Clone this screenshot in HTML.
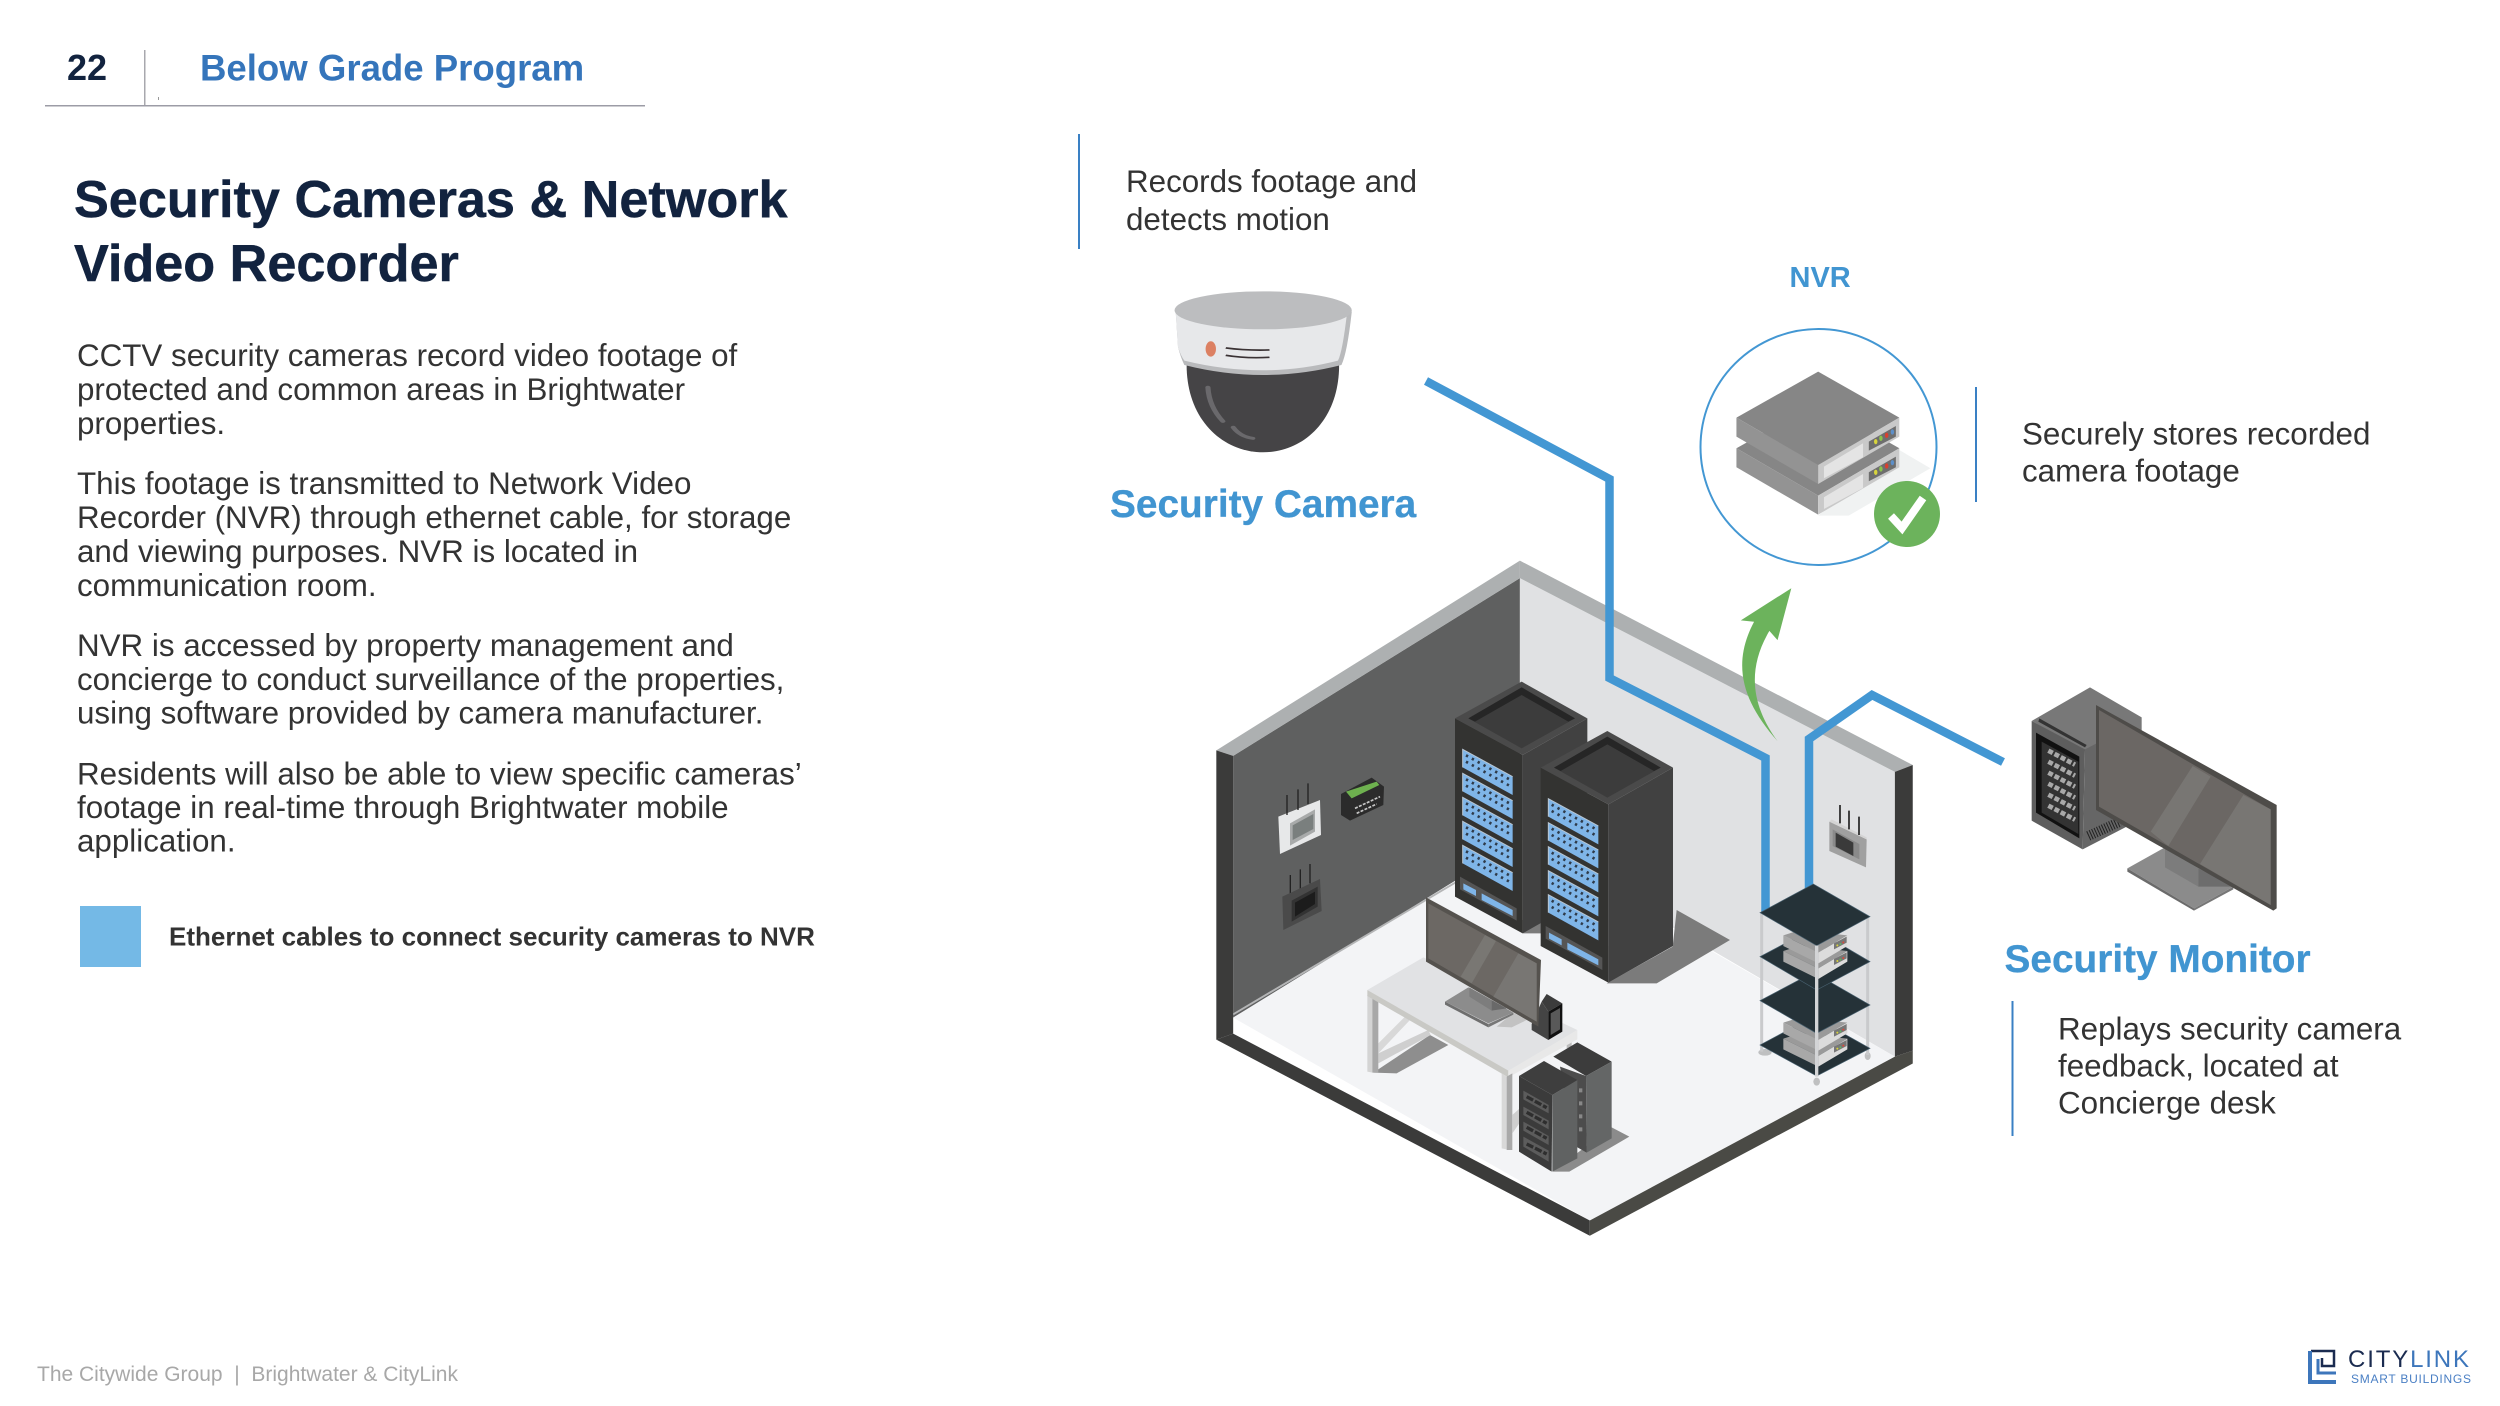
<!DOCTYPE html>
<html><head><meta charset="utf-8"><style>
html,body{margin:0;padding:0;background:#fff;width:2500px;height:1406px;overflow:hidden}
svg{display:block}
text{font-family:"Liberation Sans",sans-serif;white-space:pre}
.b{font-size:31.35px;fill:#333}
.c{font-size:31.35px;fill:#333}
.l{font-weight:bold;fill:#4195d1}
</style></head><body>
<svg width="2500" height="1406" viewBox="0 0 2500 1406" xmlns="http://www.w3.org/2000/svg">
<defs>
<g id="panel">
<polygon points="668,208 818,290 818,345 668,262" fill="#7fb5e8"/>
<polyline points="668,262 668,208 818,290" fill="none" stroke="#b9c6d2" stroke-width="3"/>
<line x1="678" y1="226" x2="810" y2="299" stroke="#2f3b4a" stroke-width="8" stroke-dasharray="7 13"/>
<line x1="678" y1="245" x2="810" y2="318" stroke="#2f3b4a" stroke-width="8" stroke-dasharray="7 13"/>
</g>
<g id="rack">
<polygon points="645,115 848,225 848,760 645,650" fill="#333331"/>
<polygon points="848,225 1042,115 1042,650 848,760" fill="#414141"/>
<polygon points="845,5 1042,115 848,225 645,115" fill="#4a4a4a"/>
<polygon points="845,22 1005,115 845,205 685,115" fill="#3c3c3c"/>
<polygon points="845,22 1005,115 985,125 845,45 705,125 685,115" fill="#262626"/>
<use href="#panel"/><use href="#panel" y="72"/><use href="#panel" y="144"/><use href="#panel" y="216"/><use href="#panel" y="288"/>
<polygon points="660,590 830,685 830,722 660,628" fill="#555"/>
<polygon points="670,610 708,630 708,648 670,628" fill="#7fb5e8"/>
<polygon points="725,640 818,690 818,708 725,660" fill="#7fb5e8"/>
</g>
<g id="nvrsmall">
<polygon points="130,478 180,462 322,478 235,530" fill="#9a9a9a"/>
<polygon points="130,478 235,530 235,562 130,510" fill="#a8a8a8"/>
<polygon points="235,530 322,478 322,510 235,562" fill="#dcdcdc"/>
<polygon points="282,502 320,482 320,500 282,520" fill="#777"/>
<circle cx="292" cy="508" r="3" fill="#d8d43c"/><circle cx="301" cy="504" r="3" fill="#5fb85f"/><circle cx="310" cy="499" r="3" fill="#d84a3a"/>
</g>
<g id="box2">
<polygon points="1287,755 1428,893 1287,1035 1145,893" fill="#868686"/>
<polygon points="1145,893 1287,1035 1287,1092 1145,950" fill="#939393"/>
<polygon points="1287,1035 1428,893 1428,950 1287,1092" fill="#c9c9c9"/>
<polygon points="1297,1040 1365,970 1365,1012 1297,1075" fill="#e4e4e4"/>
<polygon points="1375,965 1422,918 1422,950 1375,992" fill="#6e6e6e"/>
<ellipse cx="1387" cy="965" rx="3" ry="8" fill="#d8d43c"/><ellipse cx="1396" cy="955" rx="3" ry="8" fill="#8ac24a"/><ellipse cx="1406" cy="946" rx="3" ry="8" fill="#d8402f"/><ellipse cx="1416" cy="936" rx="3" ry="8" fill="#5c8fc9"/>
</g>
</defs>

<!-- header -->
<text x="67" y="80" font-size="36" font-weight="bold" fill="#12233f">22</text>
<rect x="144" y="50" width="1.5" height="55" fill="#a8a8ae"/>
<rect x="158" y="97" width="1" height="3" fill="#999"/>
<rect x="45" y="105" width="600" height="1.5" fill="#9c9ca6"/>
<text x="200" y="80.500" font-size="36.6" font-weight="bold" fill="#3575bb">Below Grade Program</text>

<text x="74" y="217" font-size="52.2" font-weight="bold" fill="#12233f" stroke="#12233f" stroke-width=".5">Security Cameras &amp; Network</text>
<text x="74" y="281" font-size="52.2" font-weight="bold" fill="#12233f" stroke="#12233f" stroke-width=".5">Video Recorder</text>

<g class="body">
<text class="b" x="77" y="366">CCTV security cameras record video footage of</text>
<text class="b" x="77" y="400">protected and common areas in Brightwater</text>
<text class="b" x="77" y="434">properties.</text>
<text class="b" x="77" y="494">This footage is transmitted to Network Video</text>
<text class="b" x="77" y="528">Recorder (NVR) through ethernet cable, for storage</text>
<text class="b" x="77" y="562">and viewing purposes. NVR is located in</text>
<text class="b" x="77" y="596">communication room.</text>
<text class="b" x="77" y="656">NVR is accessed by property management and</text>
<text class="b" x="77" y="690">concierge to conduct surveillance of the properties,</text>
<text class="b" x="77" y="723.500">using software provided by camera manufacturer.</text>
<text class="b" x="77" y="784.500">Residents will also be able to view specific cameras’</text>
<text class="b" x="77" y="818">footage in real-time through Brightwater mobile</text>
<text class="b" x="77" y="851.500">application.</text>
</g>
<rect x="80" y="906" width="61" height="61" fill="#74b9e6"/>
<text x="169" y="945.500" font-size="26" font-weight="bold" fill="#333">Ethernet cables to connect security cameras to NVR</text>

<text x="37" y="1381" font-size="21" fill="#a8a8a8">The Citywide Group  |  Brightwater &amp; CityLink</text>

<!-- callout rules -->
<rect x="1078" y="134" width="2" height="115" fill="#3a80c4"/>
<rect x="1975" y="387" width="2" height="115" fill="#3a80c4"/>
<rect x="2011.500" y="1001" width="2" height="135" fill="#3a80c4"/>

<text class="c" x="1126" y="192">Records footage and</text>
<text class="c" x="1126" y="230">detects motion</text>
<text class="c" x="2022" y="444.500">Securely stores recorded</text>
<text class="c" x="2022" y="481.500">camera footage</text>
<text class="c" x="2058" y="1039.500">Replays security camera</text>
<text class="c" x="2058" y="1076.500">feedback, located at</text>
<text class="c" x="2058" y="1113.500">Concierge desk</text>

<text class="l" x="1110" y="517" font-size="38.8" stroke="#4195d1" stroke-width=".3">Security Camera</text>
<text class="l" x="1789.500" y="287" font-size="29">NVR</text>
<text class="l" x="2004.500" y="972" font-size="38.8" stroke="#4195d1" stroke-width=".3">Security Monitor</text>

<!-- camera -->
<g transform="translate(1079,120) scale(.5755,.3333)">
<path d="M187,735 C187,900 250,997 320,997 C390,997 452,900 452,735 Z" fill="#454446"/>
<path d="M168,575 L172,680 Q176,710 183,735 Q320,795 456,735 Q466,700 474,575 Z" fill="#b9babc"/>
<path d="M168,575 L172,680 Q176,705 183,722 Q320,780 450,722 Q458,695 466,575 Z" fill="#e7e8ea"/>
<ellipse cx="320" cy="571" rx="154" ry="57" fill="#bcbdbf"/>
<ellipse cx="229" cy="687" rx="9" ry="23" fill="#dc8062"/>
<path d="M255,684 Q290,692 331,690 M255,706 Q290,716 331,712" stroke="#3a3234" stroke-width="5" fill="none"/>
<path d="M224,802 Q226,860 250,904 M268,922 Q280,950 302,955" stroke="#6a696c" stroke-width="9" fill="none" stroke-linecap="round"/>
</g>

<!-- room -->
<g transform="translate(1150,540) scale(.5102,.4592)">
<polygon points="163,470 725,83 725,680 163,1040" fill="#5f6060"/>
<polygon points="725,83 1460,505 1460,1125 725,650" fill="#e0e1e3"/>
<polygon points="163,1040 725,655 1460,1125 862,1482" fill="#f3f4f6"/>
<line x1="163" y1="1033" x2="600" y2="745" stroke="#b4b5b6" stroke-width="4"/>
<polygon points="130,458 725,45 725,83 163,470" fill="#adb0b1"/>
<polygon points="725,45 1495,490 1460,505 725,83" fill="#adb0b1"/>
<polygon points="130,458 163,470 163,1075 130,1088" fill="#3b3b3a"/>
<polygon points="1460,505 1495,490 1495,1112 1460,1125" fill="#3b3b3a"/>
<polygon points="130,1088 163,1075 862,1482 862,1515" fill="#3b3b3a"/>
<polygon points="862,1482 1460,1125 1495,1112 1495,1140 862,1515" fill="#4a4a45"/>
<path d="M1257,105 L1158,175 L1184,178 C1140,270 1160,350 1230,438 C1185,370 1165,290 1214,198 L1230,218 Z" fill="#6cb35c"/>
</g>

<!-- cables -->
<g fill="none" stroke="#4397d3" stroke-width="8.5" stroke-linejoin="miter">
<polyline points="1426,381 1609.500,479 1609.500,678 1765.500,758 1765.500,912"/>
<polyline points="1809,890 1809,739 1872,695 2003,762"/>
</g>

<!-- racks and wall devices -->
<g transform="translate(1240,680) scale(.33333)">
<polygon points="848,760 905,760 905,720 848,720" fill="#7b7b7b"/>
<use href="#rack"/>
<g transform="translate(0,0)">
<polygon points="115,410 240,360 243,465 120,522" fill="#e7e8e9"/>
<polygon points="150,430 225,388 225,455 150,497" fill="#a8aaaa"/>
<polygon points="158,436 220,402 220,447 158,480" fill="#7a7f7e"/>
<path d="M141,345V405M174,328V390M204,310V372M151,585V642M181,568V628M210,552V610" stroke="#222" stroke-width="4"/>
<polygon points="127,650 240,597 245,693 130,750" fill="#4a4a4a"/>
<polygon points="155,662 233,620 233,680 155,725" fill="#333"/>
<polygon points="165,668 225,635 225,672 165,710" fill="#1c1c1c"/>
<polygon points="303,342 395,293 432,320 430,375 330,422 303,405" fill="#2b2b2b"/>
<polygon points="318,335 410,305 418,315 335,355" fill="#6eb14f"/>
<path d="M345,385L420,350M350,400L410,372" stroke="#c7c7c7" stroke-width="5" stroke-dasharray="9 4"/>
</g>
</g>
<!-- big shadow -->
<g transform="translate(1340,880) scale(.33333)">
<polygon points="800,310 950,310 1170,180 1010,90 998,200" fill="#7b7b7b"/>
</g>
<g transform="translate(1240,680) scale(.33333)"><use href="#rack" x="257" y="148"/></g>

<!-- desk -->
<g transform="translate(1340,880) scale(.33333)">
<polygon points="100,578 170,580 325,495 270,465" fill="#8e8e8e"/>
<polygon points="115,490 195,410 210,420 115,520" fill="#d8d8d8"/>
<polygon points="115,520 265,450 272,465 115,550" fill="#cfcfcf"/>
<polygon points="82,345 97,355 97,578 82,575" fill="#d4d4d4"/>
<polygon points="97,355 115,365 115,578 97,578" fill="#a8a8a8"/>
<polygon points="680,490 695,480 695,500 680,505" fill="#bbb"/>
<polygon points="82,330 250,232 712,450 505,575" fill="#e1e2e4"/>
<polygon points="82,330 505,572 505,592 82,348" fill="#c9c9c5"/>
<polygon points="505,572 712,450 712,478 505,592" fill="#e8e8e8"/>
<polygon points="485,580 500,590 500,808 485,805" fill="#d8d8d8"/>
<polygon points="500,590 517,580 517,810 500,810" fill="#a9a9a9"/>
<polygon points="517,705 545,680 545,720 517,760" fill="#cfcfcf"/>
<polygon points="470,440 520,398 560,420 515,442" fill="#c2c2c2"/>
<polygon points="315,365 385,322 520,398 445,430" fill="#8c8c8c"/>
<polygon points="315,365 445,432 445,442 315,374" fill="#6e6e6e"/>
<polygon points="445,432 520,398 520,404 445,442" fill="#777"/>
<polygon points="388,322 455,360 455,392 388,350" fill="#7d7d7d"/>
<polygon points="455,360 500,385 455,392" fill="#696969"/>
<!-- mini tower -->
<polygon points="605,365 620,342 667,370 625,395" fill="#3c3c3c"/>
<polygon points="575,432 605,365 625,395 625,480 575,450" fill="#444"/>
<polygon points="625,395 667,370 667,455 625,480" fill="#111"/>
<polygon points="632,400 660,384 660,448 632,465" fill="#777" opacity=".7"/>
<!-- monitor -->
<polygon points="258,52 603,240 595,440 258,245" fill="#55524e"/>
<polygon points="265,70 590,250 590,425 265,235" fill="#6c6864"/>
<polygon points="435,165 468,183 395,310 362,290" fill="#797773"/>
<polygon points="535,220 590,250 590,425 460,350" fill="#787673"/>
<!-- servers -->
<polygon points="637,875 688,875 868,770 815,742" fill="#8b8b8b"/>
<polygon points="640,530 712,487 815,545 738,588" fill="#3c3c3c"/>
<polygon points="738,588 815,545 815,775 740,818" fill="#646666"/>
<polygon points="660,560 738,588 740,818 700,795" fill="#4c4c4c"/>
<path d="M722,625V760" stroke="#888" stroke-width="10" stroke-dasharray="12 27"/>
<polygon points="537,588 637,645 635,875 537,815" fill="#3b3b3b"/>
<polygon points="637,645 712,600 712,835 637,875" fill="#606262"/>
<polygon points="537,588 612,543 712,600 637,645" fill="#3e3e3e"/>
<g fill="#5c5c5c"><polygon points="550,632 626,675 626,700 550,658"/><polygon points="550,680 626,722 626,748 550,705"/><polygon points="550,725 626,768 626,795 550,752"/><polygon points="550,770 626,812 626,845 550,800"/></g>
<g stroke="#2e2e2e" stroke-width="10" fill="none"><path d="M560,650L620,683M560,697L620,730M560,742L620,775M560,792L620,822" stroke-dasharray="22 6"/></g>
</g>

<!-- shelf unit -->
<g transform="translate(1740,780) scale(.33333)">
<ellipse cx="75" cy="817" rx="20" ry="10" fill="#bfc0c1"/>
<ellipse cx="383" cy="828" rx="9" ry="12" fill="#bfc0c1"/>
<ellipse cx="230" cy="905" rx="10" ry="12" fill="#bfc0c1"/>
<path d="M65,400V815M383,410V825" stroke="#c9cacc" stroke-width="9"/>
<polygon points="60,795 220,710 390,805 230,888" fill="#253238" stroke="#486170" stroke-width="2"/>
<use href="#nvrsmall" y="298"/><use href="#nvrsmall" y="250"/>
<polygon points="60,662 220,577 390,675 230,760" fill="#253238" stroke="#486170" stroke-width="2"/>
<polygon points="60,530 220,445 390,545 230,630" fill="#253238" stroke="#486170" stroke-width="2"/>
<use href="#nvrsmall" y="35"/><use href="#nvrsmall" y="-12"/>
<polygon points="60,398 220,312 390,410 230,497" fill="#253238" stroke="#486170" stroke-width="2"/>
<path d="M230,497V890" stroke="#d3d4d6" stroke-width="10"/>
<!-- wall device -->
<polygon points="268,125 380,178 378,262 268,213" fill="#a0a0a0"/>
<polygon points="268,125 275,118 380,172 380,178" fill="#d4d4d4"/>
<polygon points="278,148 358,192 358,238 278,198" fill="#8a8a8a"/>
<polygon points="287,158 340,188 340,228 287,200" fill="#3a3a3a"/>
<path d="M300,75V130M327,92V148M357,110V165" stroke="#222" stroke-width="5"/>
</g>

<!-- NVR -->
<circle cx="1818.500" cy="447" r="118" fill="#fff" stroke="#4397d3" stroke-width="2"/>
<g transform="translate(1077.500,120) scale(.5755,.3333)">
<polygon points="1428,990 1482,1045 1340,1187 1287,1187" fill="#f0f2f2"/>
<use href="#box2" y="92"/>
<use href="#box2"/>
</g>
<circle cx="1907" cy="514" r="33" fill="#6cb35c"/>
<polyline points="1891,516 1902,528 1923,498" fill="none" stroke="#fff" stroke-width="8"/>

<!-- monitor icon -->
<g transform="translate(1900,660) scale(.33333)">
<polygon points="395,183 570,82 725,172 725,300 590,300 548,268" fill="#787878"/>
<polygon points="395,183 555,268 548,568 395,482" fill="#5e5e5e"/>
<polygon points="555,268 600,245 680,300 680,500 548,568" fill="#666"/>
<polygon points="408,218 538,290 538,535 408,458" fill="#111"/>
<polygon points="425,245 535,305 535,522 425,458" fill="#333"/>
<polygon points="418,175 560,255 555,262 415,185" fill="#333"/>
<g stroke="#a8a8a8" stroke-width="14" stroke-dasharray="15 6" fill="none">
<path d="M445,272L525,314M445,305L525,347M445,338L525,380M445,371L525,413M445,404L525,446M445,437L525,479"/>
</g>
<line x1="565" y1="528" x2="660" y2="485" stroke="#222" stroke-width="30" stroke-dasharray="3 5"/>
<polygon points="682,625 795,562 1000,680 882,745" fill="#8b8b8b"/>
<polygon points="682,625 882,745 882,752 682,635" fill="#6b6b6b"/>
<polygon points="882,745 1000,680 1000,688 882,752" fill="#777"/>
<polygon points="795,562 895,625 895,680 795,622" fill="#7c7c7c"/>
<polygon points="895,625 1000,680 895,680" fill="#6d6d6d"/>
<polygon points="588,135 1130,435 1130,745 1120,752 588,450" fill="#4e4c49"/>
<polygon points="597,150 1112,448 1112,735 597,440" fill="#6b6764"/>
<polygon points="878,318 932,350 805,558 752,515" fill="#787673"/>
<polygon points="1030,405 1112,448 1112,735 900,612" fill="#787673"/>
</g>

<!-- logo -->
<g fill="none">
<path d="M2311,1351H2334V1366H2322V1358" stroke="#1a2b50" stroke-width="2.5"/>
<path d="M2310,1351V1382H2336" stroke="#3d76bb" stroke-width="4"/>
<path d="M2318,1359V1373H2336" stroke="#3d76bb" stroke-width="3"/>
</g>
<text x="2348" y="1367" font-size="24" fill="#1a2b50" textLength="121" lengthAdjust="spacing">CITY<tspan fill="#3d76bb">LINK</tspan></text>
<text x="2351" y="1383" font-size="12" fill="#4a7fc4" textLength="120" lengthAdjust="spacing">SMART BUILDINGS</text>
</svg>
</body></html>
